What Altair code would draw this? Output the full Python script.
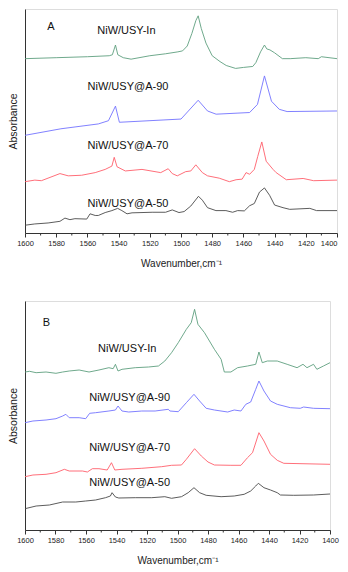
import altair as alt
import pandas as pd

SERIES = ["NiW/USY-In", "NiW/USY@A-90", "NiW/USY@A-70", "NiW/USY@A-50"]
COLORS = ["#5f9f7f", "#7373ff", "#ff5f6b", "#4a4a4a"]

# ---------------- Panel A ----------------
a_in_x = [1600, 1580, 1560, 1546, 1544, 1542, 1540.5, 1537, 1532, 1520, 1510, 1502, 1499, 1496, 1493, 1490.5, 1489, 1487, 1484, 1480, 1475, 1471, 1465, 1460, 1454, 1452, 1449, 1446.5, 1445, 1443, 1440, 1435, 1430, 1420, 1412, 1410, 1400]
a_in_y = [179, 180, 181, 182, 183, 193, 183, 180, 178.5, 182, 184, 186, 187, 192, 205, 218, 223, 210, 195, 182, 176, 172, 169, 170, 171, 175, 186, 193, 189, 188, 185, 179, 179, 180, 179, 181, 179]

a_90_x = [1600, 1577, 1553, 1546.5, 1542, 1539.5, 1500, 1489, 1483, 1477.5, 1456, 1451, 1446.5, 1442, 1437, 1432, 1400]
a_90_y = [100.3, 107, 112, 115.3, 130.3, 113.7, 117, 136.3, 125.3, 122, 123.7, 132, 161.3, 135.3, 127, 124.7, 125.3]

a_70_x = [1600, 1593.7, 1589.5, 1577.6, 1572.3, 1563.7, 1555, 1548.6, 1544.3, 1542.8, 1541, 1535.7, 1525, 1513, 1508.2, 1505.6, 1502.4, 1497, 1493.7, 1490.5, 1486.3, 1483, 1475.5, 1469, 1464.7, 1460.8, 1458.3, 1456, 1453, 1450.8, 1448.2, 1445.4, 1441, 1439, 1432.5, 1421.7, 1415, 1400]
a_70_y = [52.7, 54.3, 53.7, 61, 58.7, 59.3, 62, 65.3, 68.7, 77.7, 68, 63.7, 65.3, 62, 66, 61, 58.7, 63, 63.7, 70, 62, 58.7, 56.3, 52.7, 54.7, 55.3, 62, 60.3, 65.3, 78.7, 93.5, 73.7, 65.3, 62, 54.7, 56, 53.7, 54.3]

a_50_x = [1600, 1593.7, 1585.2, 1577.6, 1574.4, 1571.2, 1568, 1560.4, 1558.3, 1555, 1553, 1548.6, 1544.3, 1540.6, 1537.9, 1534.6, 1531.4, 1525, 1518.5, 1509.9, 1505.6, 1501.3, 1498, 1493.7, 1488.8, 1486.3, 1483, 1477.6, 1471.2, 1466.9, 1463.7, 1459.4, 1456, 1453, 1449.7, 1446.5, 1443.2, 1440, 1434.6, 1430.3, 1417.4, 1413.1, 1400]
a_50_y = [8, 9.3, 10.3, 12, 15.3, 13.7, 14.7, 14.3, 19.7, 18, 18, 21, 23, 25.3, 23, 19.7, 20.7, 21, 21.3, 21.3, 23.7, 21, 22, 27.7, 37.7, 33.7, 26, 23, 23, 21.3, 23, 22.7, 28, 30.3, 42, 46.3, 38.7, 28.7, 26, 24.3, 25.3, 23, 23]

a_label_x = [1535, 1534, 1534, 1534]
a_label_y = [207, 150, 89, 30]

# ---------------- Panel B ----------------
b_in_x = [1600, 1597, 1592.7, 1586.2, 1579.7, 1575.3, 1571, 1564.5, 1558, 1551.5, 1545, 1542.2, 1540.7, 1539, 1536.4, 1527.7, 1519, 1512.5, 1508.3, 1503.9, 1499.5, 1494.2, 1491, 1488.8, 1486.6, 1482.3, 1475.8, 1471.4, 1469.3, 1465, 1460.6, 1454.1, 1448.7, 1446.6, 1444.4, 1441.1, 1434.6, 1428.1, 1421.6, 1417.7, 1415.1, 1410.8, 1408.6, 1404.3, 1400]
b_in_y = [158, 158.7, 157.3, 158, 156.7, 158, 159, 160, 158, 160, 162.3, 161.3, 165.7, 159, 160.7, 162.3, 163, 164, 169, 177.3, 187.3, 200.7, 207.3, 220.7, 205.7, 197.3, 180.7, 170.7, 158, 158, 162.3, 164, 165.7, 178, 167.3, 169, 169, 165.7, 162.3, 165.7, 162.3, 165.7, 160.7, 164, 167.3]

b_90_x = [1600, 1594.8, 1586.2, 1579.7, 1575.3, 1573.2, 1571, 1564.5, 1560.2, 1557.6, 1553.7, 1545, 1540.7, 1539, 1536.4, 1532, 1523.4, 1514.7, 1506, 1505, 1499.5, 1494.2, 1489.2, 1485.5, 1481.2, 1475.8, 1467.1, 1462.8, 1458.4, 1455.2, 1452, 1448.7, 1446.6, 1443.3, 1439, 1434.6, 1426, 1419.5, 1417.3, 1410.8, 1400]
b_90_y = [107.3, 109, 110, 111.3, 114, 115.7, 112.3, 112.3, 111.3, 116.7, 117.3, 119, 120, 124, 119, 118, 119, 119, 120.7, 119, 118.3, 127.3, 135.7, 129, 121.7, 120, 118, 120, 119, 125.7, 128, 140.7, 149, 139, 129, 125.7, 122.3, 121.7, 123, 121.7, 121.3]

b_70_x = [1600, 1594.8, 1586.2, 1579.7, 1574.2, 1571, 1562.3, 1559.1, 1555.8, 1551.5, 1546.1, 1543.3, 1541.1, 1536.4, 1523.4, 1510.4, 1503.9, 1497.4, 1494.2, 1488.8, 1484.4, 1480, 1475.8, 1465, 1458.4, 1454.1, 1450.8, 1446.6, 1443.3, 1439, 1434.6, 1430.3, 1400]
b_70_y = [53.3, 55, 55.7, 57.3, 60.7, 59, 59, 58, 61.3, 61.3, 60, 67.3, 60, 60.7, 61.7, 63.3, 64.7, 65, 70.7, 81.3, 74, 68, 65, 64.7, 64.7, 72.3, 77.3, 97.3, 89, 75.7, 69.7, 66.7, 65.7]

b_50_x = [1600, 1592.7, 1584, 1575.3, 1566.7, 1560.2, 1553.7, 1547.2, 1544, 1542.9, 1540.7, 1538.5, 1527.7, 1516.9, 1508.3, 1503.9, 1497.4, 1493, 1489.2, 1485.5, 1481.2, 1471.4, 1462.8, 1456.3, 1452, 1448.7, 1447, 1443.3, 1439, 1434.6, 1432.5, 1423.8, 1410.8, 1400]
b_50_y = [21.3, 24, 25, 28, 28, 29, 30, 32.3, 34, 37.3, 33, 32, 32.3, 32.3, 33.3, 31.7, 33.3, 37.3, 42.3, 37.3, 34.7, 33.3, 34, 35.7, 39, 44, 46.7, 42.3, 40, 37.3, 35, 34.7, 35, 36]

b_label_x = [1533, 1531.4, 1531.4, 1531.4]
b_label_y = [180.7, 132.3, 82.3, 46.7]

MAJOR_TICKS = list(range(1400, 1601, 20))
MINOR_TICKS = list(range(1410, 1600, 20))


def make_panel(series_xy, label_x, label_y, letter, letter_xy, ymax, width, height, last_align):
    rows = []
    for name, (xs, ys) in zip(SERIES, series_xy):
        for i, (x, y) in enumerate(zip(xs, ys)):
            rows.append({"series": name, "wn": x, "abs": y, "order": i})
    df = pd.DataFrame(rows)
    lab = pd.DataFrame({"text": SERIES, "wn": label_x, "abs": label_y})
    let = pd.DataFrame({"text": [letter], "wn": [letter_xy[0]], "abs": [letter_xy[1]]})
    minor = pd.DataFrame({"wn": MINOR_TICKS})

    xs = alt.Scale(domain=[1400, 1600], reverse=True, nice=False, zero=False)
    ys = alt.Scale(domain=[0, ymax], nice=False, zero=False)

    xaxis = alt.Axis(
        values=MAJOR_TICKS,
        labelOverlap=False,
        labelFlush=False,
        labelAlign={"condition": {"test": "datum.value === 1400", "value": last_align}, "value": "center"},
        tickSize=4,
        format="d",
        grid=False,
        domainColor="#333333",
        tickColor="#333333",
        labelFont="Liberation Sans",
        labelFontSize=7.5,
        labelColor="#222222",
        labelPadding=2,
        title="Wavenumber,cm⁻¹",
        titleFont="Liberation Sans",
        titleFontSize=10,
        titleFontWeight="normal",
        titleColor="#222222",
        titlePadding=12,
    )
    yaxis = alt.Axis(
        labels=False,
        ticks=False,
        grid=False,
        domainColor="#333333",
        title="Absorbance",
        titleFont="Liberation Sans",
        titleFontSize=10.5,
        titleFontWeight="normal",
        titleColor="#222222",
        titlePadding=6.5,
    )

    X = alt.X("wn:Q", scale=xs, axis=xaxis)
    Y = alt.Y("abs:Q", scale=ys, axis=yaxis)

    lines = alt.Chart(df).mark_line(strokeWidth=0.9, clip=True).encode(
        x=X,
        y=Y,
        color=alt.Color("series:N", scale=alt.Scale(domain=SERIES, range=COLORS), legend=None),
        detail="series:N",
        order="order:Q",
    )
    minor_ticks = alt.Chart(minor).mark_rule(color="#333333", strokeWidth=1).encode(
        x=X,
        y=alt.value(height),
        y2=alt.value(height + 2.5),
    )
    labels = alt.Chart(lab).mark_text(font="Liberation Sans", fontSize=11, color="#111111").encode(
        x=X, y=Y, text="text:N"
    )
    letter_mark = alt.Chart(let).mark_text(font="Liberation Sans", fontSize=11, color="#111111").encode(
        x=X, y=Y, text="text:N"
    )
    return alt.layer(lines, minor_ticks, labels, letter_mark).properties(width=width, height=height)


panel_a = make_panel(
    [(a_in_x, a_in_y), (a_90_x, a_90_y), (a_70_x, a_70_y), (a_50_x, a_50_y)],
    a_label_x, a_label_y, "A", (1583.4, 212), 230, 312, 224, "right",
)
panel_b = make_panel(
    [(b_in_x, b_in_y), (b_90_x, b_90_y), (b_70_x, b_70_y), (b_50_x, b_50_y)],
    b_label_x, b_label_y, "B", (1586, 207.3), 229, 305, 229, "center",
)

chart = (
    alt.vconcat(panel_a, panel_b, spacing=31)
    .properties(padding={"left": 0, "top": 0, "right": 1, "bottom": 0})
    .configure_view(stroke="#333333", strokeWidth=1)
    .configure_axis(labelOverlap=False)
    .configure(background="white")
)

chart.save("out.html", embed_options={"renderer": "svg", "actions": False})
